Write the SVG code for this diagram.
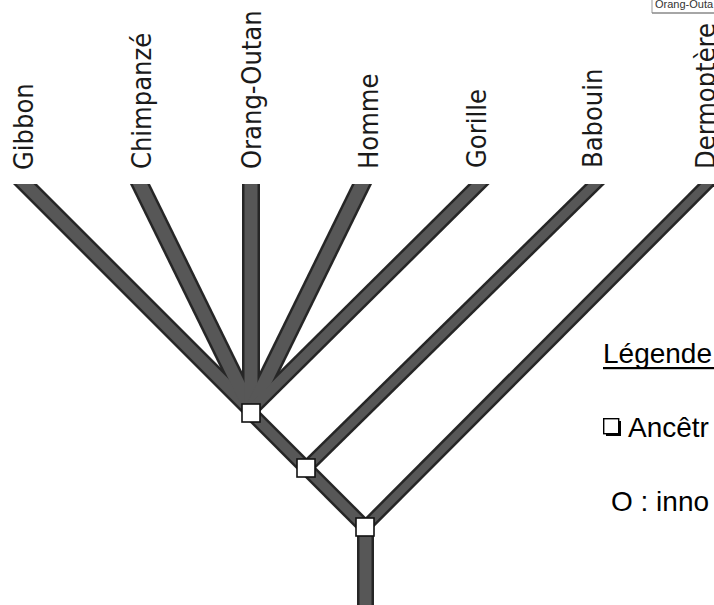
<svg xmlns="http://www.w3.org/2000/svg" width="714" height="605" viewBox="0 0 714 605">
<defs>
<style>
.lbl{font-family:"DejaVu Sans Condensed","DejaVu Sans","Liberation Sans",sans-serif;font-stretch:condensed;font-size:27px;fill:#1a1a1a}
.leg{font-family:"Liberation Sans",Arial,sans-serif;font-size:28px;fill:#000}
.br{fill:none;stroke:#262626;stroke-linecap:butt}
.bi{fill:none;stroke:#575757;stroke-linecap:butt}
.nd{fill:#fff;stroke:#111;stroke-width:1.6}
</style>
<clipPath id="topcut"><rect x="0" y="184" width="714" height="421"/></clipPath>
</defs>
<rect width="714" height="605" fill="#fff"/>

<g id="connectors" clip-path="url(#topcut)">
  <g id="outer">
    <line class="br" x1="-9" y1="150" x2="251" y2="410" stroke-width="17"/>
    <line class="br" x1="123.3" y1="150" x2="251" y2="410" stroke-width="18"/>
    <line class="br" x1="251" y1="150" x2="251" y2="410" stroke-width="18"/>
    <line class="br" x1="378.7" y1="150" x2="251" y2="410" stroke-width="18"/>
    <line class="br" x1="513.3" y1="150" x2="251" y2="410" stroke-width="15"/>
    <line class="br" x1="629.6" y1="150" x2="306" y2="468" stroke-width="14"/>
    <line class="br" x1="740.9" y1="150" x2="365" y2="527" stroke-width="13"/>
    <line class="br" x1="251" y1="413" x2="306" y2="468" stroke-width="15"/>
    <line class="br" x1="306" y1="468" x2="365" y2="527" stroke-width="15"/>
    <line class="br" x1="365.5" y1="527" x2="365.5" y2="620" stroke-width="17"/>
  </g>
  <g id="inner">
    <line class="bi" x1="-9" y1="150" x2="251" y2="410" stroke-width="12"/>
    <line class="bi" x1="123.3" y1="150" x2="251" y2="410" stroke-width="13"/>
    <line class="bi" x1="251" y1="150" x2="251" y2="410" stroke-width="13"/>
    <line class="bi" x1="378.7" y1="150" x2="251" y2="410" stroke-width="13"/>
    <line class="bi" x1="513.3" y1="150" x2="251" y2="410" stroke-width="10"/>
    <line class="bi" x1="629.6" y1="150" x2="306" y2="468" stroke-width="9"/>
    <line class="bi" x1="740.9" y1="150" x2="365" y2="527" stroke-width="8"/>
    <line class="bi" x1="251" y1="413" x2="306" y2="468" stroke-width="10"/>
    <line class="bi" x1="306" y1="468" x2="365" y2="527" stroke-width="10"/>
    <line class="bi" x1="365.5" y1="527" x2="365.5" y2="620" stroke-width="12"/>
  </g>
</g>

<g id="node-ancestor-1"><rect class="nd" x="242" y="404" width="18" height="18"/></g>
<g id="node-ancestor-2"><rect class="nd" x="297" y="459" width="18" height="18"/></g>
<g id="node-ancestor-3"><rect class="nd" x="356" y="518" width="18" height="18"/></g>

<g id="node-gibbon"><text class="lbl" transform="translate(33,170) rotate(-90)">Gibbon</text></g>
<g id="node-chimpanze"><text class="lbl" transform="translate(151,169) rotate(-90)">Chimpanzé</text></g>
<g id="node-orang-outan"><text class="lbl" transform="translate(261,169) rotate(-90)">Orang-Outan</text></g>
<g id="node-homme"><text class="lbl" transform="translate(378,169) rotate(-90)">Homme</text></g>
<g id="node-gorille"><text class="lbl" transform="translate(486,168) rotate(-90)">Gorille</text></g>
<g id="node-babouin"><text class="lbl" transform="translate(602,168) rotate(-90)">Babouin</text></g>
<g id="node-dermoptere"><text class="lbl" transform="translate(715,169) rotate(-90)">Dermoptère</text></g>

<g id="corner-label">
  <line x1="652" y1="0" x2="652" y2="13" stroke="#999" stroke-width="1"/>
  <line x1="652" y1="13" x2="714" y2="13" stroke="#888" stroke-width="1.5"/>
  <text x="655" y="8" font-family="'Liberation Sans',Arial,sans-serif" font-size="11" fill="#333">Orang-Outa</text>
</g>

<g id="legend">
  <text class="leg" x="603" y="363">Légende</text>
  <rect x="603" y="367" width="111" height="2.2" fill="#000"/>
  <rect x="606" y="421" width="15" height="15" fill="#000"/>
  <rect x="603.7" y="418.7" width="15" height="15" fill="#fff" stroke="#000" stroke-width="1.4"/>
  <text class="leg" x="628" y="437">Ancêtr</text>
  <text class="leg" x="611" y="511">O : inno</text>
</g>
</svg>
